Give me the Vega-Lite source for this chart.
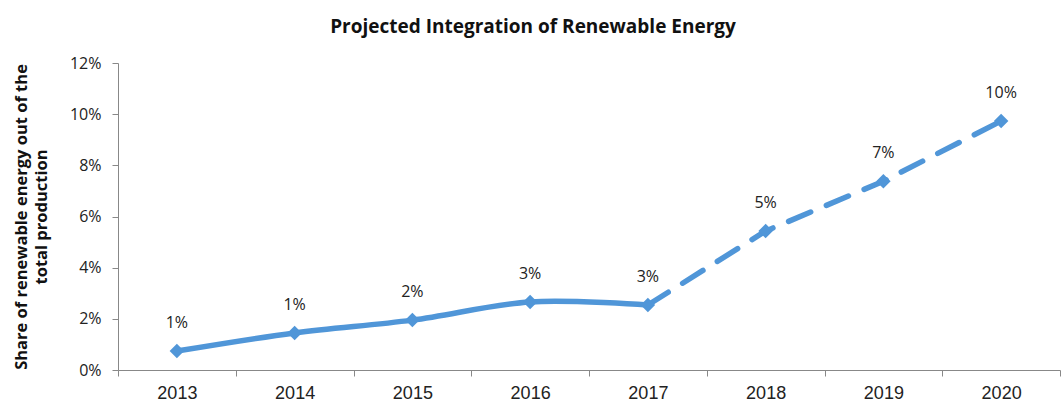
{
  "$schema": "https://vega.github.io/schema/vega-lite/v6.json",
  "width": 942,
  "height": 307,
  "autosize": {"type": "none"},
  "padding": {"left": 118, "top": 63, "right": 3, "bottom": 31},
  "background": "white",
  "title": {
    "text": "Projected Integration of Renewable Energy",
    "font": "Open Sans",
    "fontSize": 19,
    "fontWeight": "bold",
    "color": "#111111",
    "anchor": "middle",
    "dx": -56,
    "offset": 18
  },
  "config": {
    "view": {"stroke": null},
    "font": "Open Sans"
  },
  "data": {
    "values": [
      {"year": "2013", "share": 0.0074, "actual": 0.0074, "projected": null},
      {"year": "2014", "share": 0.0145, "actual": 0.0145, "projected": null},
      {"year": "2015", "share": 0.0195, "actual": 0.0195, "projected": null},
      {"year": "2016", "share": 0.0266, "actual": 0.0266, "projected": null},
      {"year": "2017", "share": 0.0254, "actual": 0.0254, "projected": 0.0254},
      {"year": "2018", "share": 0.0543, "actual": null, "projected": 0.0543},
      {"year": "2019", "share": 0.0738, "actual": null, "projected": 0.0738},
      {"year": "2020", "share": 0.0973, "actual": null, "projected": 0.0973}
    ]
  },
  "encoding": {
    "x": {
      "field": "year",
      "type": "ordinal",
      "scale": {"paddingInner": 0, "paddingOuter": 0},
      "axis": {
        "title": null,
        "labelAngle": 0,
        "labelFont": "Liberation Sans",
        "labelFontSize": 18,
        "labelColor": "#222222",
        "labelPadding": 8,
        "tickBand": "extent",
        "tickSize": 6,
        "tickColor": "#888888",
        "domainColor": "#888888",
        "grid": false
      }
    }
  },
  "layer": [
    {
      "transform": [{"filter": "datum.actual != null"}],
      "mark": {"type": "line", "interpolate": "catmull-rom", "strokeWidth": 5.5, "color": "#5096d8", "strokeCap": "round"},
      "encoding": {
        "y": {
          "field": "actual",
          "type": "quantitative",
          "scale": {"domain": [0, 0.12], "nice": false},
          "axis": {
            "title": ["Share of renewable energy out of the", "total production"],
            "titleFont": "Open Sans",
            "titleFontSize": 16.5,
            "titleFontWeight": "bold",
            "titleColor": "#111111",
            "titlePadding": 20,
            "titleLineHeight": 20,
            "format": ".0%",
            "values": [0, 0.02, 0.04, 0.06, 0.08, 0.1, 0.12],
            "labelFontSize": 16,
            "labelColor": "#222222",
            "labelPadding": 11,
            "tickSize": 6,
            "tickColor": "#888888",
            "domainColor": "#888888",
            "grid": false
          }
        }
      }
    },
    {
      "transform": [{"filter": "datum.projected != null"}],
      "mark": {"type": "line", "strokeWidth": 5.5, "color": "#5096d8", "strokeDash": [24, 17], "strokeCap": "round"},
      "encoding": {
        "y": {"field": "projected", "type": "quantitative"}
      }
    },
    {
      "mark": {"type": "point", "shape": "diamond", "filled": true, "size": 210, "color": "#5096d8", "opacity": 1},
      "encoding": {
        "y": {"field": "share", "type": "quantitative"}
      }
    },
    {
      "mark": {"type": "text", "dy": -28, "fontSize": 16, "color": "#222222"},
      "encoding": {
        "y": {"field": "share", "type": "quantitative"},
        "text": {"field": "share", "type": "quantitative", "format": ".0%"}
      }
    }
  ]
}
